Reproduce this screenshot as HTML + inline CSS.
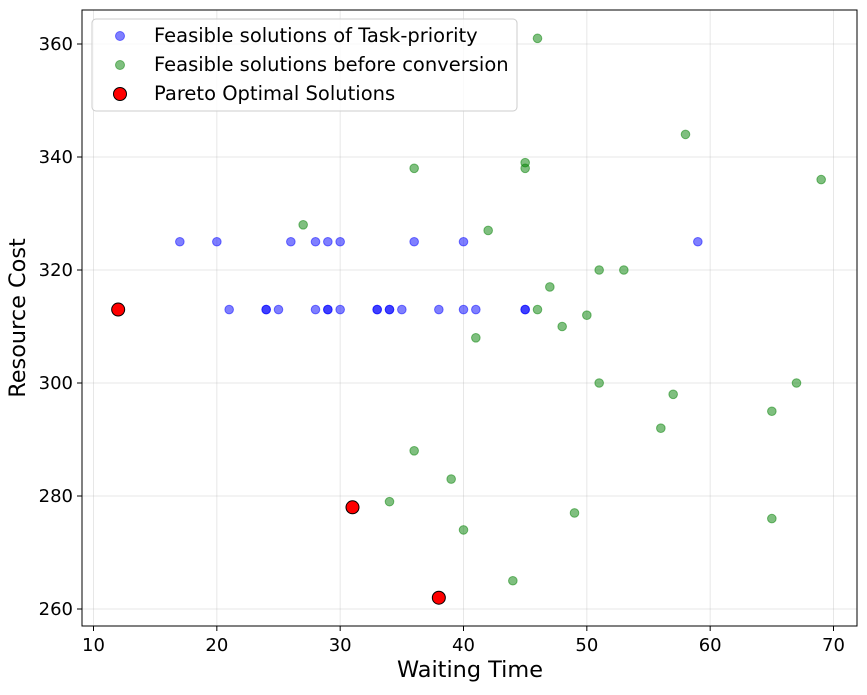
<!DOCTYPE html>
<html><head><meta charset="utf-8"><style>
body{margin:0;background:#fff;font-family:"Liberation Sans","DejaVu Sans",sans-serif}
svg text{font-family:"DejaVu Sans","Liberation Sans",sans-serif}
</style></head><body>
<svg id="chart" width="867" height="690" xmlns="http://www.w3.org/2000/svg">
<rect x="0" y="0" width="867" height="690" fill="#fff"/>
<g id="grid"></g><g id="pts"></g>
<rect x="82" y="10" width="775" height="616" fill="none" stroke="#000" stroke-width="1"/>
<g id="axes"></g>
<text x="470" y="677" font-size="22.4" text-anchor="middle">Waiting Time</text>
<text transform="translate(25,318) rotate(-90)" font-size="22.4" text-anchor="middle">Resource Cost</text>
<g>
<rect x="92" y="19" width="425" height="92" rx="4" fill="#fff" fill-opacity="0.8" stroke="#ccc"/>
<g><circle cx="120" cy="36" r="4.5" fill="blue" fill-opacity="0.5" stroke="blue" stroke-opacity="0.5"/><text x="154" y="42" font-size="19.5">Feasible solutions of Task-priority</text></g>
<g><circle cx="120" cy="65" r="4.5" fill="green" fill-opacity="0.5" stroke="green" stroke-opacity="0.5"/><text x="154" y="71" font-size="19.5">Feasible solutions before conversion</text></g>
<g><circle cx="120" cy="94" r="6.5" fill="red" stroke="#000"/><text x="154" y="100" font-size="19.5">Pareto Optimal Solutions</text></g>
</g>
</svg>
<script>
const xTicks=[10,20,30,40,50,60,70];
const yTicks=[260,280,300,320,340,360];
const blueX=[17,20,26,28,29,30,36,40,59,21,24,24,25,28,29,29,30,33,33,34,34,35,38,40,41,45,45];
const blueY=[325,325,325,325,325,325,325,325,325,313,313,313,313,313,313,313,313,313,313,313,313,313,313,313,313,313,313];
const greenX=[46,58,69,36,45,45,27,42,51,53,47,46,50,48,41,51,67,57,65,56,36,39,34,49,65,40,44];
const greenY=[361,344,336,338,339,338,328,327,320,320,317,313,312,310,308,300,300,298,295,292,288,283,279,277,276,274,265];
const paretoX=[12,31,38];
const paretoY=[313,278,262];
const sx=v=>93.5+(v-10)*(740/60);
const sy=v=>609-(v-260)*5.65;
const NS="http://www.w3.org/2000/svg";
const grid=document.getElementById('grid'),axes=document.getElementById('axes'),pts=document.getElementById('pts');
function mk(tag,attrs,parent){const e=document.createElementNS(NS,tag);for(const k in attrs)e.setAttribute(k,attrs[k]);parent.appendChild(e);return e;}
xTicks.forEach(t=>{const x=sx(t);
 mk('line',{x1:x,x2:x,y1:10,y2:626,stroke:'#b0b0b0','stroke-opacity':0.3},grid);
 mk('line',{x1:x,x2:x,y1:626,y2:631,stroke:'#000'},axes);
 const tx=mk('text',{x:x,y:651,'font-size':18,'text-anchor':'middle'},axes);tx.textContent=t;
 
 });
yTicks.forEach(t=>{const y=sy(t);
 mk('line',{x1:82,x2:857,y1:y,y2:y,stroke:'#b0b0b0','stroke-opacity':0.3},grid);
 mk('line',{x1:77,x2:82,y1:y,y2:y,stroke:'#000'},axes);
 const tx=mk('text',{x:73,y:y+6,'font-size':18,'text-anchor':'end'},axes);tx.textContent=t;
 
 });
blueX.forEach((v,i)=>{const c=mk('circle',{cx:sx(v),cy:sy(blueY[i]),r:4.3,fill:'blue','fill-opacity':0.5,stroke:'blue','stroke-opacity':0.5,'stroke-width':1},pts);
 
 });
greenX.forEach((v,i)=>{const c=mk('circle',{cx:sx(v),cy:sy(greenY[i]),r:4.3,fill:'green','fill-opacity':0.5,stroke:'green','stroke-opacity':0.5,'stroke-width':1},pts);
 
 });
paretoX.forEach((v,i)=>{const c=mk('circle',{cx:sx(v),cy:sy(paretoY[i]),r:6.5,fill:'red',stroke:'#000','stroke-width':1},pts);
 
 });
</script>
</body></html>
